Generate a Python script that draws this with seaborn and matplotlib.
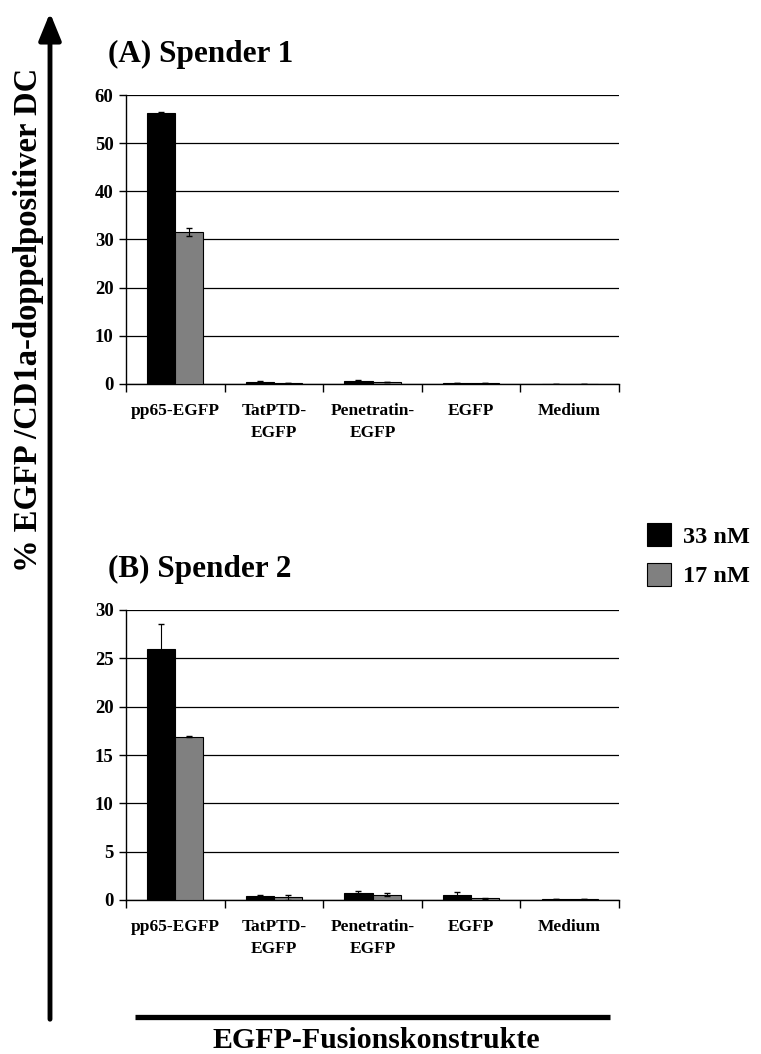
import matplotlib
matplotlib.use("Agg")
import matplotlib.pyplot as plt
import seaborn as sns
import pandas as pd
import numpy as np
from matplotlib.patches import FancyArrowPatch
from matplotlib.lines import Line2D

sns.set_theme(style="white")
plt.rcParams['font.family'] = ['Liberation Serif', 'DejaVu Serif']
plt.rcParams['font.weight'] = 'bold'
plt.rcParams['text.color'] = 'black'
plt.rcParams['xtick.color'] = 'black'
plt.rcParams['ytick.color'] = 'black'
plt.rcParams['axes.labelcolor'] = 'black'

categories = ["pp65-EGFP", "TatPTD-\nEGFP", "Penetratin-\nEGFP", "EGFP", "Medium"]
series = ["33 nM", "17 nM"]

a_33 = [56.2, 0.5, 0.7, 0.2, 0.05]
a_17 = [31.5, 0.2, 0.4, 0.2, 0.05]
a_33_err = [0.3, 0.05, 0.1, 0.05, 0.02]
a_17_err = [0.8, 0.05, 0.05, 0.05, 0.02]

b_33 = [26.0, 0.4, 0.7, 0.55, 0.1]
b_17 = [16.9, 0.3, 0.55, 0.2, 0.1]
b_33_err = [2.6, 0.1, 0.2, 0.25, 0.02]
b_17_err = [0.05, 0.25, 0.15, 0.05, 0.02]

titles = ["(A) Spender 1", "(B) Spender 2"]
yticks_a = [0, 10, 20, 30, 40, 50, 60]
yticks_b = [0, 5, 10, 15, 20, 25, 30]

colors = {"33 nM": "#000000", "17 nM": "#808080"}

fig = plt.figure(figsize=(7.61, 10.54), dpi=100)

W, H = 761, 1054
def rect(l, t, r, b):
    return [l / W, 1 - b / H, (r - l) / W, (b - t) / H]

panels = [
    (rect(126, 95, 619, 384), a_33, a_17, a_33_err, a_17_err, yticks_a, titles[0], (108, 62)),
    (rect(126, 610, 619, 900), b_33, b_17, b_33_err, b_17_err, yticks_b, titles[1], (108, 577)),
]

for pos, v33, v17, e33, e17, yt, title, tpos in panels:
    ax = fig.add_axes(pos)
    df = pd.DataFrame({
        "Konstrukt": categories * 2,
        "Wert": v33 + v17,
        "Konz": ["33 nM"] * 5 + ["17 nM"] * 5,
    })
    sns.barplot(data=df, x="Konstrukt", y="Wert", hue="Konz", order=categories,
                hue_order=series, palette=colors, width=0.57, errorbar=None,
                edgecolor="black", linewidth=0.8, legend=False, ax=ax, zorder=3)
    errs = e33 + e17
    vals = v33 + v17
    for patch, v, e in zip(ax.patches, vals, errs):
        xc = patch.get_x() + patch.get_width() / 2
        ax.errorbar(xc, v, yerr=e, fmt="none", ecolor="black", elinewidth=0.8,
                    capsize=2.5, capthick=1, zorder=4)
    ax.set_xlim(-0.5, 4.5)
    ax.set_ylim(yt[0], yt[-1])
    ax.set_yticks(yt)
    ax.set_yticklabels([str(t) for t in yt], fontsize=13.5, fontweight="bold")
    ax.set_xticks(range(5))
    ax.set_xticklabels(categories, fontsize=12.5, fontweight="bold", linespacing=1.5)
    ax.tick_params(axis="x", length=0, pad=14)
    ax.set_xticks(np.arange(-0.5, 5, 1), minor=True)
    ax.tick_params(axis="x", which="minor", length=6, width=1, direction="out", color="black", bottom=True)
    ax.tick_params(axis="y", length=5, width=1, direction="out", color="black", left=True, pad=4)
    ax.yaxis.grid(True, color="black", linewidth=0.9)
    ax.set_axisbelow(True)
    for s in ["top", "right"]:
        ax.spines[s].set_visible(False)
    for s in ["left", "bottom"]:
        ax.spines[s].set_color("black")
        ax.spines[s].set_linewidth(1)
    ax.set_xlabel("")
    ax.set_ylabel("")
    fig.text(tpos[0] / W, 1 - tpos[1] / H, title, fontsize=22.5, fontweight="bold",
             ha="left", va="baseline")

# Legend
handles = [plt.Rectangle((0, 0), 1, 1, facecolor=colors[s], edgecolor="black", linewidth=0.8) for s in series]
fig.legend(handles, series, loc="upper left", bbox_to_anchor=(647 / W, 1 - 523 / H),
           frameon=False, prop={"size": 17.5, "weight": "bold", "family": "Liberation Serif"},
           handlelength=1.0, handleheight=1.1, handletextpad=0.5, labelspacing=0.6,
           borderaxespad=0, borderpad=0)

# Y axis arrow and label
arrow = FancyArrowPatch((50 / W, 1 - 1022 / H), (50 / W, 1 - 10 / H),
                        transform=fig.transFigure, arrowstyle="-|>,head_length=11,head_width=4.5",
                        mutation_scale=1.5, color="black", linewidth=3.5)
fig.add_artist(arrow)
fig.text(29 / W, 1 - 320 / H, "% EGFP /CD1a-doppelpositiver DC", rotation=90,
         fontsize=23.5, fontweight="bold", ha="center", va="center")

# X axis bar and label
fig.add_artist(Line2D([135 / W, 610 / W], [1 - 1017 / H, 1 - 1017 / H],
                      transform=fig.transFigure, color="black", linewidth=3.8,
                      solid_capstyle="butt"))
fig.text(376 / W, 1 - 1041 / H, "EGFP-Fusionskonstrukte", fontsize=21.5, fontweight="bold",
         ha="center", va="center")

fig.savefig("out.png", dpi=100)
